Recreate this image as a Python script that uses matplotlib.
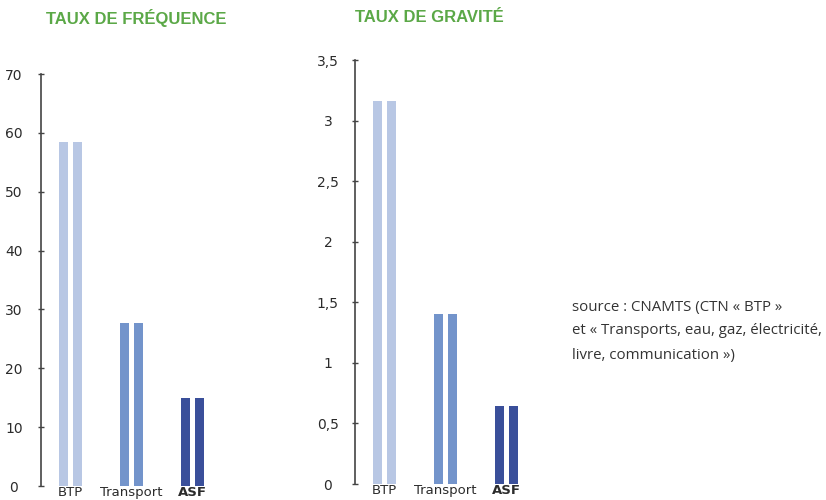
import matplotlib
matplotlib.use("Agg")
import matplotlib.pyplot as plt

# Data
categories = ["BTP", "Transport", "ASF"]
freq_a = [58.4, 27.7, 15.0]
freq_b = [58.4, 27.7, 15.0]
grav_a = [3.16, 1.40, 0.64]
grav_b = [3.16, 1.40, 0.64]
freq_ticks = [0, 10, 20, 30, 40, 50, 60, 70]
grav_ticks = [0, 0.5, 1, 1.5, 2, 2.5, 3, 3.5]
grav_tick_labels = ["0", "0,5", "1", "1,5", "2", "2,5", "3", "3,5"]

colors = ["#B8C7E4", "#7394CB", "#3A4F9A"]
green = "#5BA847"
text_col = "#2b2b2b"

W, H = 826, 500
UNIT = 61.0          # pixels between category centres
X_LEFT = -29.5 / UNIT
X_RIGHT = 2.5
fig = plt.figure(figsize=(W / 100, H / 100), dpi=100)
plt.rcParams["font.family"] = ["DejaVu Sans"]


def px_axes(left, top, bottom):
    right = left + UNIT * (X_RIGHT - X_LEFT)
    return fig.add_axes([left / W, 1 - bottom / H, (right - left) / W, (bottom - top) / H])


def draw_panel(ax, s1, s2, ymax, ticks, tick_labels):
    x = list(range(len(categories)))
    bw = 9 / UNIT
    off = 7 / UNIT
    ax.bar([i - off for i in x], s1, width=bw, color=colors, linewidth=0)
    ax.bar([i + off for i in x], s2, width=bw, color=colors, linewidth=0)
    ax.set_xlim(X_LEFT, X_RIGHT)
    ax.set_ylim(0, ymax)
    for side in ["top", "right", "bottom"]:
        ax.spines[side].set_visible(False)
    ax.spines["left"].set_color("#444444")
    ax.spines["left"].set_linewidth(1.2)
    ax.set_yticks(ticks)
    ax.set_yticklabels(tick_labels)
    ax.tick_params(axis="y", direction="inout", length=5, width=1, color="#444444",
                   labelsize=10, labelcolor=text_col, pad=17)
    for lbl in ax.get_yticklabels():
        lbl.set_ha("center")
    ax.set_xticks(x)
    ax.set_xticklabels(categories)
    ax.tick_params(axis="x", length=0, pad=0.3, labelsize=9.5, labelcolor=text_col)
    ax.get_xticklabels()[2].set_fontweight("bold")
    ax.patch.set_alpha(0)


ax1 = px_axes(41, 74, 486)
draw_panel(ax1, freq_a, freq_b, 70, freq_ticks, [str(t) for t in freq_ticks])

ax2 = px_axes(355, 60, 484)
draw_panel(ax2, grav_a, grav_b, 3.5, grav_ticks, grav_tick_labels)

fig.text(46 / W, 1 - 18 / H, "TAUX DE FRÉQUENCE", color=green, fontsize=12,
         fontweight="bold", family="Liberation Sans", va="center", ha="left")
fig.text(355 / W, 1 - 18 / H, "TAUX DE GRAVITÉ", color=green, fontsize=12,
         fontweight="bold", family="Liberation Sans", va="center", ha="left")

source_lines = ["source : CNAMTS (CTN « BTP »",
                "et « Transports, eau, gaz, électricité,",
                "livre, communication »)"]
for i, line in enumerate(source_lines):
    fig.text(572 / W, 1 - (307 + 24 * i) / H, line, color="#333333", fontsize=10.8,
             family="Open Sans", va="center", ha="left")

fig.savefig("out.png", dpi=100)
